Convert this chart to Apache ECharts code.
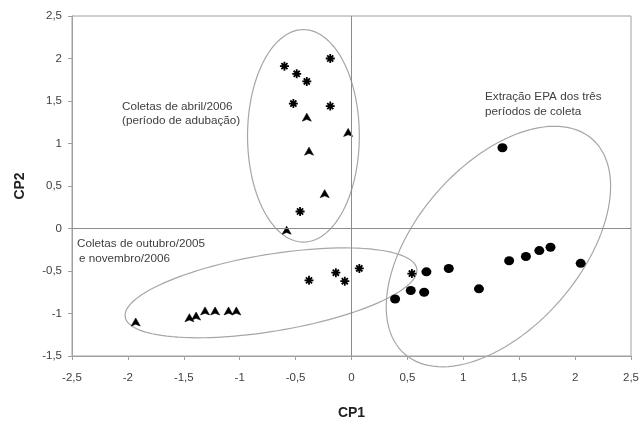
<!DOCTYPE html>
<html>
<head>
<meta charset="utf-8">
<script src="https://cdn.jsdelivr.net/npm/echarts@6/dist/echarts.min.js"></script>
<style>
  html, body { margin: 0; padding: 0; background: #fff; }
  #chart { width: 642px; height: 425px; }
</style>
</head>
<body>
<div id="chart"></div>
<script>
// valores (CP1, CP2)
var asteriskPoints = [
    [-0.60, 1.91], [-0.49, 1.82], [-0.40, 1.73], [-0.19, 2.00], [-0.52, 1.47], [-0.19, 1.44],
    [-0.46, 0.20], [-0.38, -0.61], [-0.14, -0.52], [-0.06, -0.62], [0.07, -0.47], [0.54, -0.53]
];
var trianglePoints = [
    [-0.40, 1.31], [-0.38, 0.91], [-0.03, 1.13], [-0.24, 0.41], [-0.58, -0.02],
    [-1.93, -1.10], [-1.45, -1.05], [-1.39, -1.03], [-1.31, -0.97], [-1.22, -0.97], [-1.10, -0.97], [-1.03, -0.97]
];
var circlePoints = [
    [1.35, 0.95], [0.39, -0.83], [0.53, -0.73], [0.65, -0.75], [0.67, -0.51], [0.87, -0.47],
    [1.14, -0.71], [1.41, -0.38], [1.56, -0.33], [1.68, -0.26], [1.78, -0.22], [2.05, -0.41]
];

// elipses: centro e extremidades de dois semi-eixos conjugados (coordenadas dos dados)
var ellipseCenter = [[-0.43, 1.09], [-0.72, -0.757], [1.314, -0.212]];
var ellipseAxisA  = [[-0.43, 2.34], [0.584, -0.473], [2.152, 1.053]];
var ellipseAxisB  = [[0.07, 1.09], [-0.776, -0.311], [0.762, 0.422]];

var xTicks = { min: -2.5, max: 2.5, step: 0.5 };
var yTicks = { min: -1.5, max: 2.5, step: 0.5 };

var ellipseData = [];
for (var i = 0; i < ellipseCenter.length; i++) {
    ellipseData.push(ellipseCenter[i].concat(ellipseAxisA[i], ellipseAxisB[i]));
}

function virgula(v) {
    return String(v).replace('.', ',');
}

var fontFam = '"Liberation Sans", Arial, sans-serif';
var cinza = '#a0a0a0';
var notaFont = '11.7px ' + fontFam;

var chart = echarts.init(document.getElementById('chart'));

var option = {
    animation: false,
    backgroundColor: '#fff',
    grid: {
        left: 72, right: 2, top: 16, bottom: 64,
        show: true,
        borderColor: cinza,
        borderWidth: 1
    },
    xAxis: {
        type: 'value',
        min: xTicks.min, max: xTicks.max, interval: xTicks.step,
        name: 'CP1',
        nameLocation: 'middle',
        nameGap: 50,
        nameTextStyle: { fontFamily: fontFam, fontSize: 14, fontWeight: 'bold', color: '#222' },
        axisLine: { onZero: false, lineStyle: { color: cinza } },
        axisTick: { show: true, length: 4, lineStyle: { color: cinza } },
        axisLabel: { formatter: virgula, color: '#404040', fontFamily: fontFam, fontSize: 11.5, margin: 16, alignMaxLabel: 'center' },
        splitLine: { show: false }
    },
    yAxis: {
        type: 'value',
        min: yTicks.min, max: yTicks.max, interval: yTicks.step,
        name: 'CP2',
        nameLocation: 'middle',
        nameRotate: 90,
        nameGap: 45,
        nameTextStyle: { fontFamily: fontFam, fontSize: 14, fontWeight: 'bold', color: '#222' },
        axisLine: { show: true, onZero: false, lineStyle: { color: cinza } },
        axisTick: { show: true, length: 4, lineStyle: { color: cinza } },
        axisLabel: { formatter: virgula, color: '#404040', fontFamily: fontFam, fontSize: 11.5, margin: 10 },
        splitLine: { show: false }
    },
    graphic: [
        { type: 'text', left: 122, top: 101, style: { text: 'Coletas de abril/2006', font: notaFont, fill: '#404040' } },
        { type: 'text', left: 122, top: 115, style: { text: '(período de adubação)', font: notaFont, fill: '#404040' } },
        { type: 'text', left: 485, top: 91, style: { text: 'Extração EPA dos três', font: notaFont, fill: '#404040' } },
        { type: 'text', left: 485, top: 106, style: { text: 'períodos de coleta', font: notaFont, fill: '#404040' } },
        { type: 'text', left: 77, top: 238, style: { text: 'Coletas de outubro/2005', font: notaFont, fill: '#404040' } },
        { type: 'text', left: 79, top: 253, style: { text: 'e novembro/2006', font: notaFont, fill: '#404040' } }
    ],
    series: [
        {
            type: 'custom',
            silent: true,
            z: 1,
            encode: { x: [0, 2, 4], y: [1, 3, 5] },
            data: ellipseData,
            renderItem: function (params, api) {
                var c = api.coord([api.value(0), api.value(1)]);
                var a = api.coord([api.value(2), api.value(3)]);
                var b = api.coord([api.value(4), api.value(5)]);
                var ax = a[0] - c[0], ay = a[1] - c[1];
                var bx = b[0] - c[0], by = b[1] - c[1];
                var pts = [];
                for (var k = 0; k < 120; k++) {
                    var t = k / 120 * Math.PI * 2;
                    pts.push([c[0] + ax * Math.cos(t) + bx * Math.sin(t),
                              c[1] + ay * Math.cos(t) + by * Math.sin(t)]);
                }
                return {
                    type: 'polygon',
                    shape: { points: pts },
                    style: { fill: 'none', stroke: '#a6a6a6', lineWidth: 1.2 }
                };
            }
        },
        {
            type: 'scatter',
            name: 'asterisco',
            z: 3,
            data: asteriskPoints,
            symbol: 'path://M5 0 L5 10 M0 5 L10 5 M1.6 1.6 L8.4 8.4 M8.4 1.6 L1.6 8.4',
            symbolSize: 9,
            itemStyle: { color: '#000', borderColor: '#000', borderWidth: 1.8, opacity: 1 }
        },
        {
            type: 'scatter',
            name: 'triangulo',
            z: 3,
            data: trianglePoints,
            symbol: 'path://M5 0 L10 9 L5 7 L0 9 Z',
            symbolSize: [9, 8],
            itemStyle: { color: '#000', borderColor: '#000', borderWidth: 0.6, opacity: 1 }
        },
        {
            type: 'scatter',
            name: 'circulo',
            z: 3,
            data: circlePoints,
            symbol: 'circle',
            symbolSize: [10, 9],
            itemStyle: { color: '#000', opacity: 1 },
            markLine: {
                silent: true,
                symbol: 'none',
                label: { show: false },
                lineStyle: { color: '#8c8c8c', type: 'solid', width: 1 },
                data: [{ xAxis: 0 }, { yAxis: 0 }]
            }
        }
    ]
};

chart.setOption(option);
</script>
</body>
</html>
